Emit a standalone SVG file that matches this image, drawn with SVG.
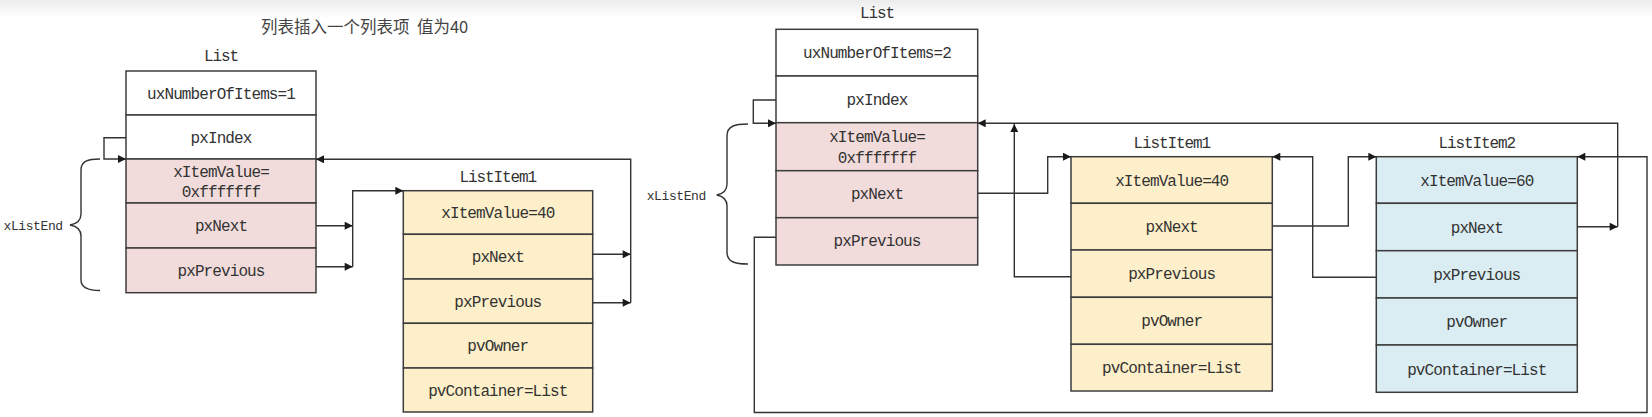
<svg xmlns="http://www.w3.org/2000/svg" width="1652" height="417" viewBox="0 0 1652 417">
<defs>
<linearGradient id="topbar" x1="0" y1="0" x2="0" y2="1">
<stop offset="0" stop-color="#ececec"/>
<stop offset="1" stop-color="#ffffff"/>
</linearGradient>
<marker id="arr" viewBox="0 0 10 10" refX="10" refY="5" markerWidth="9" markerHeight="8" markerUnits="userSpaceOnUse" orient="auto">
<path d="M0,0 L10,5 L0,10 z" fill="#1a1a1a"/>
</marker>
<style>
.cell{stroke:#3d3d3d;stroke-width:1.5}
.w{fill:#ffffff}
.pk{fill:#f2dcdb}
.yl{fill:#fdefc9}
.bl{fill:#daedf3}
.t{font-family:"Liberation Mono","DejaVu Sans Mono",monospace;font-size:16px;letter-spacing:-0.9px;fill:#333;text-anchor:middle}
.lbl{font-family:"Liberation Mono","DejaVu Sans Mono",monospace;font-size:16px;letter-spacing:-1.1px;fill:#333;text-anchor:middle}
.brl{font-family:"Liberation Mono","DejaVu Sans Mono",monospace;font-size:13px;letter-spacing:-0.4px;fill:#333}
.title{font-family:"Noto Sans CJK SC","Noto Sans",sans-serif;font-size:16.5px;fill:#444}
.c{fill:none;stroke:#333;stroke-width:1.4}
.ca{fill:none;stroke:#333;stroke-width:1.4;marker-end:url(#arr)}
.br{fill:none;stroke:#333;stroke-width:1.4}
</style>
</defs>
<rect x="0" y="0" width="1652" height="417" fill="#ffffff"/>
<rect x="0" y="0" width="1652" height="18" fill="url(#topbar)"/>

<text class="title" x="261" y="33" xml:space="preserve">列表插入一个列表项  值为40</text>

<!-- Left diagram: List -->
<g id="list1">
<text class="lbl" x="221" y="61">List</text>
<rect class="cell w" x="126" y="71" width="190" height="44"/>
<rect class="cell w" x="126" y="115" width="190" height="44"/>
<rect class="cell pk" x="126" y="159" width="190" height="44"/>
<rect class="cell pk" x="126" y="203" width="190" height="45"/>
<rect class="cell pk" x="126" y="248" width="190" height="44.7"/>
<text class="t" x="221" y="98.5">uxNumberOfItems=1</text>
<text class="t" x="221" y="142.5">pxIndex</text>
<text class="t" x="221" y="176.5">xItemValue=</text>
<text class="t" x="221" y="197">0xfffffff</text>
<text class="t" x="221" y="231">pxNext</text>
<text class="t" x="221" y="275.5">pxPrevious</text>
</g>

<g id="brace1">
<path class="br" d="M100,159 C88,159 81,161 81,170 V214 C81,221 76,224 70,225 C76,226 81,229 81,236 V280 C81,288 88,290.5 100,290.5"/>
<text class="brl" x="3.5" y="229.5">xListEnd</text>
</g>

<!-- Left diagram: ListItem1 -->
<g id="listitem1a">
<text class="lbl" x="497.8" y="182">ListItem1</text>
<rect class="cell yl" x="403.3" y="190.7" width="189.4" height="43.6"/>
<rect class="cell yl" x="403.3" y="234.3" width="189.4" height="44.7"/>
<rect class="cell yl" x="403.3" y="279" width="189.4" height="44.3"/>
<rect class="cell yl" x="403.3" y="323.3" width="189.4" height="44.7"/>
<rect class="cell yl" x="403.3" y="368" width="189.4" height="44"/>
<text class="t" x="497.8" y="218">xItemValue=40</text>
<text class="t" x="497.8" y="262">pxNext</text>
<text class="t" x="497.8" y="306.5">pxPrevious</text>
<text class="t" x="497.8" y="351">pvOwner</text>
<text class="t" x="497.8" y="395.5">pvContainer=List</text>
</g>

<!-- Right diagram: List -->
<g id="list2">
<text class="lbl" x="877" y="18">List</text>
<rect class="cell w" x="776" y="29.3" width="201.7" height="46.7"/>
<rect class="cell w" x="776" y="76" width="201.7" height="46.7"/>
<rect class="cell pk" x="776" y="122.7" width="201.7" height="48"/>
<rect class="cell pk" x="776" y="170.7" width="201.7" height="47"/>
<rect class="cell pk" x="776" y="217.7" width="201.7" height="47.3"/>
<text class="t" x="877" y="58">uxNumberOfItems=2</text>
<text class="t" x="877" y="105">pxIndex</text>
<text class="t" x="877" y="141.5">xItemValue=</text>
<text class="t" x="877" y="163">0xfffffff</text>
<text class="t" x="877" y="199">pxNext</text>
<text class="t" x="877" y="246">pxPrevious</text>
</g>

<g id="brace2">
<path class="br" d="M748,124 C735,124 727,126 727,136 V184 C727,191 722,194 716.7,195 C722,196 727,199 727,206 V252 C727,262 735,264 748,264"/>
<text class="brl" x="646.7" y="199.5">xListEnd</text>
</g>

<!-- Right diagram: ListItem1 -->
<g id="listitem1b">
<text class="lbl" x="1171.7" y="148">ListItem1</text>
<rect class="cell yl" x="1071" y="156.7" width="201.3" height="46.6"/>
<rect class="cell yl" x="1071" y="203.3" width="201.3" height="46.7"/>
<rect class="cell yl" x="1071" y="250" width="201.3" height="47.3"/>
<rect class="cell yl" x="1071" y="297.3" width="201.3" height="47"/>
<rect class="cell yl" x="1071" y="344.3" width="201.3" height="46.7"/>
<text class="t" x="1171.7" y="185.5">xItemValue=40</text>
<text class="t" x="1171.7" y="232">pxNext</text>
<text class="t" x="1171.7" y="279">pxPrevious</text>
<text class="t" x="1171.7" y="326">pvOwner</text>
<text class="t" x="1171.7" y="373">pvContainer=List</text>
</g>

<!-- Right diagram: ListItem2 -->
<g id="listitem2">
<text class="lbl" x="1476.8" y="148">ListItem2</text>
<rect class="cell bl" x="1376.3" y="156.7" width="201" height="46.6"/>
<rect class="cell bl" x="1376.3" y="203.3" width="201" height="47.4"/>
<rect class="cell bl" x="1376.3" y="250.7" width="201" height="47.3"/>
<rect class="cell bl" x="1376.3" y="298" width="201" height="47"/>
<rect class="cell bl" x="1376.3" y="345" width="201" height="47.3"/>
<text class="t" x="1476.8" y="185.5">xItemValue=60</text>
<text class="t" x="1476.8" y="232.5">pxNext</text>
<text class="t" x="1476.8" y="280">pxPrevious</text>
<text class="t" x="1476.8" y="327">pvOwner</text>
<text class="t" x="1476.8" y="374.5">pvContainer=List</text>
</g>

<g id="connectors">
<!-- left diagram -->
<path class="ca" d="M126,137.7 H104 V159 H126"/>
<path class="ca" d="M316,225.7 H352.7"/>
<path class="ca" d="M316,266.7 H352.7"/>
<path class="ca" d="M352.7,266.7 V190.7 H403.3"/>
<path class="ca" d="M592.7,254.3 H630.7"/>
<path class="ca" d="M592.7,302.7 H630.7"/>
<path class="ca" d="M630.7,302.7 V159.3 H316"/>
<!-- right diagram -->
<path class="ca" d="M776,100 H753.3 V123.3 H776"/>
<path class="ca" d="M977.7,193.3 H1047.7 V156.7 H1071"/>
<path class="ca" d="M1071,276.7 H1014.3 V124"/>
<path class="ca" d="M1272.3,226 H1348.3 V156.7 H1376.3"/>
<path class="ca" d="M1376.3,277.3 H1312.7 V156.7 H1272.3"/>
<path class="ca" d="M1577.3,226.7 H1617.7"/>
<path class="ca" d="M1617.7,226.7 V123.3 H977.7"/>
<path class="ca" d="M776,237.3 H754.3 V412.5 H1647 V156.7 H1577.3"/>
</g>
</svg>
